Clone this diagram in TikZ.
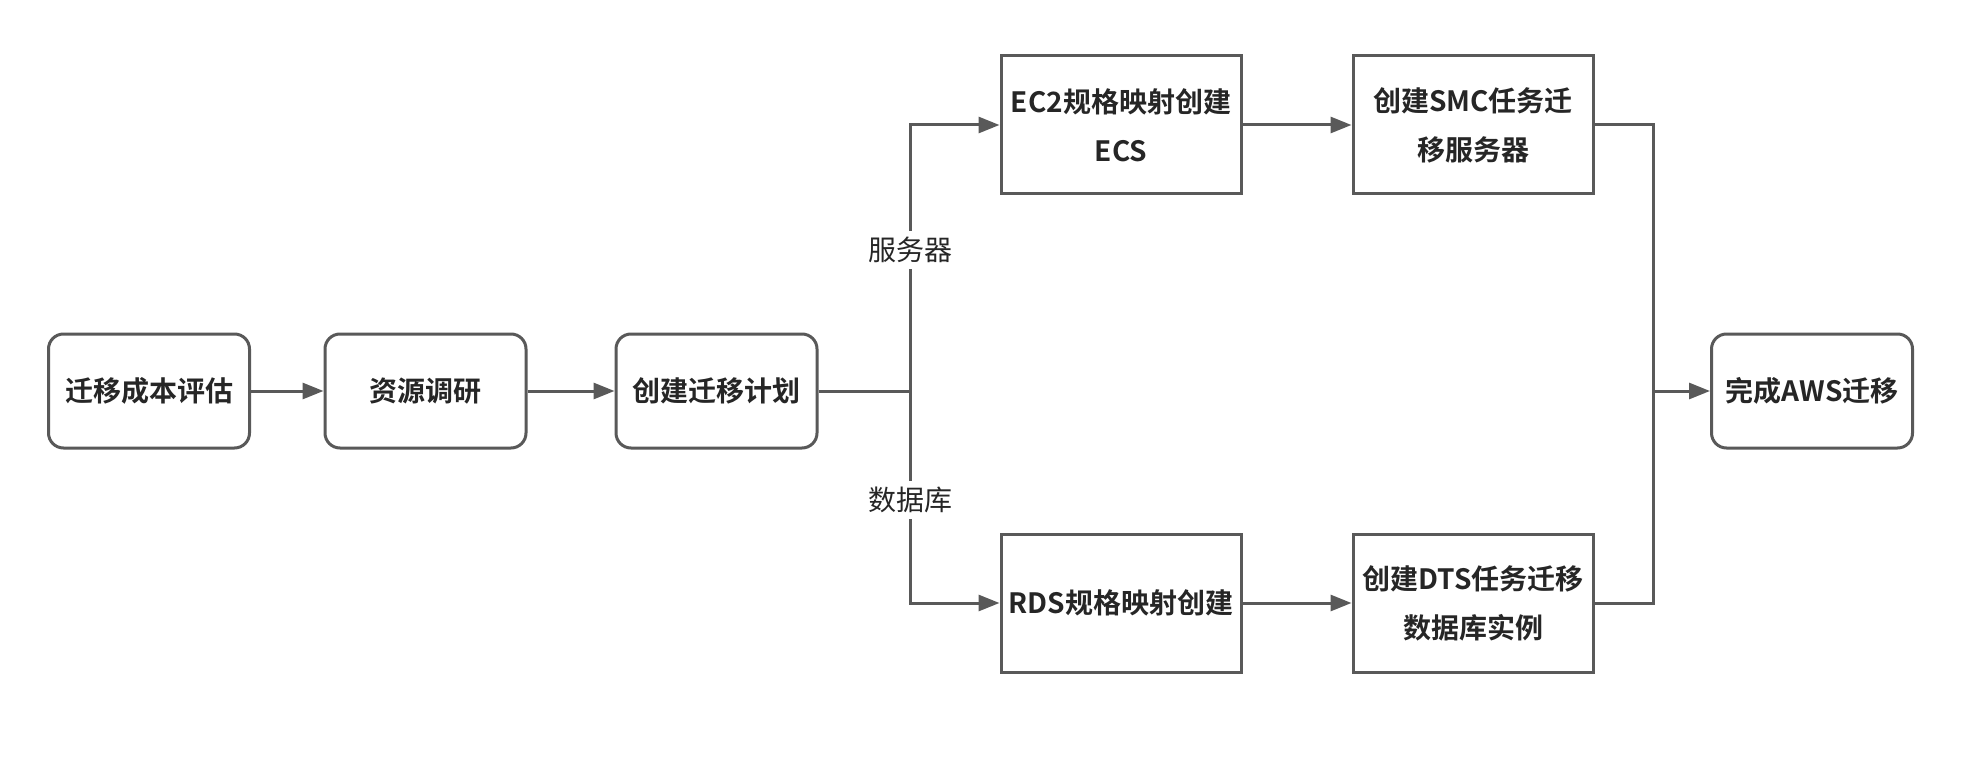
\documentclass[tikz,border=0pt]{standalone}
\usepackage{fontspec}
\newfontfamily\cjk[BoldFont={Noto Sans CJK SC Bold}]{Noto Sans CJK SC}
\usetikzlibrary{arrows.meta}
\definecolor{edge}{HTML}{595959}
\definecolor{ink}{HTML}{262626}
\tikzset{
  base/.style={draw=edge, line width=3pt, fill=white, text=ink, align=center,
    font=\cjk\bfseries\fontsize{28}{49}\selectfont, inner sep=0pt},
  rbox/.style={base, rounded corners=15pt, minimum width=201pt, minimum height=114pt},
  sbox/.style={base, minimum width=240pt, minimum height=138pt},
  conn/.style={draw=edge, line width=3pt, line join=miter},
  arr/.style={conn, -{Triangle[length=21pt,width=16pt]}},
  lbl/.style={fill=white, text=ink, font=\cjk\fontsize{28}{32}\selectfont, inner sep=6pt}
}
\begin{document}
\begin{tikzpicture}[x=1pt,y=-1pt]
\useasboundingbox[fill=white] (0,0) rectangle (1962,770);
\node[rbox] (a) at (149,391) {迁移成本评估};
\node[rbox] (b) at (425.5,391) {资源调研};
\node[rbox] (c) at (716.5,391) {创建迁移计划};
\node[sbox] (ec2) at (1121,125) {EC2规格映射创建\\ECS};
\node[sbox] (smc) at (1473,125) {创建SMC任务迁\\移服务器};
\node[sbox] (rds) at (1121,603) {RDS规格映射创建};
\node[sbox] (dts) at (1473,603) {创建DTS任务迁移\\数据库实例};
\node[rbox] (fin) at (1812,391) {完成AWS迁移};
\coordinate (j) at (910,391);
\coordinate (k) at (1653,391);
\draw[arr] (a) -- (b);
\draw[arr] (b) -- (c);
\draw[conn] (c) -- (j);
\draw[arr] (j) |- (ec2.west);
\draw[arr] (j) |- (rds.west);
\draw[arr] (ec2) -- (smc);
\draw[arr] (rds) -- (dts);
\draw[conn] (smc.east) -| (k);
\draw[conn] (dts.east) -| (k);
\draw[arr] (k) -- (fin);
\node[lbl] (l1) at (910,250) {服务器};
\node[lbl] (l2) at (910,500) {数据库};
\end{tikzpicture}
\end{document}
